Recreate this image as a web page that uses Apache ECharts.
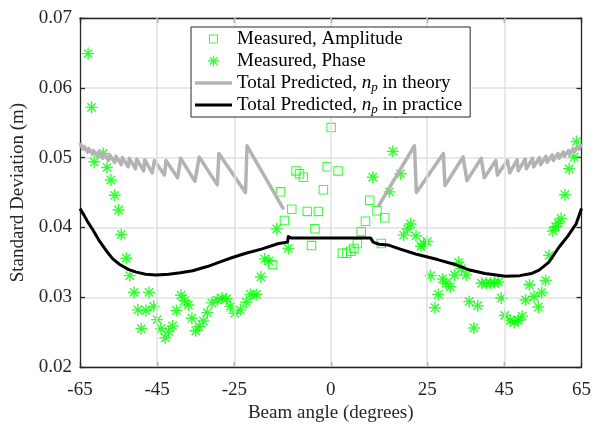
<!DOCTYPE html>
<html><head><meta charset="utf-8">
<script src="https://cdn.jsdelivr.net/npm/echarts@6/dist/echarts.min.js"></script>
<style>html,body{margin:0;padding:0;background:#fff}#c{width:594px;height:428px}</style>
</head><body><div id="c"></div>
<script>
const xTicks = [-65, -45, -25, 0, 25, 45, 65];
const xGrid = [-45, -25, 0, 25, 45];
const yMin = 0.02, yMax = 0.07, yStep = 0.01;

const seriesNames = ['Measured, Amplitude', 'Measured, Phase', 'Total Predicted, n_p in theory', 'Total Predicted, n_p in practice'];

const amplitude = [
  [-15.1,0.0347],[-13.0,0.0451],[-12.0,0.0410],[-10.1,0.0426],[-9.0,0.0481],[-8.1,0.0477],[-7.1,0.0472],
  [-6.1,0.0423],[-5.0,0.0374],[-4.1,0.0398],[-3.2,0.0423],[-1.9,0.0454],[-0.9,0.0487],[0.1,0.0543],
  [1.9,0.0481],[3.0,0.0363],[4.1,0.0363],[5.2,0.0366],[6.0,0.0370],[6.9,0.0377],[7.9,0.0394],
  [9.0,0.0409],[10.1,0.0439],[12.0,0.0424],[13.1,0.0377],[14.0,0.0414]
];

const phase = [
  [-62.9,0.0649],[-62.0,0.0572],[-61.3,0.0494],[-59.0,0.0506],[-58.0,0.0486],[-57.0,0.0468],[-56.0,0.0446],
  [-55.0,0.0425],[-54.3,0.0390],[-53.0,0.0356],[-52.1,0.0331],[-51.0,0.0307],[-47.1,0.0307],[-50.0,0.0282],
  [-47.9,0.0281],[-45.9,0.0287],[-49.1,0.0255],[-45.0,0.0268],[-44.0,0.0255],[-42.9,0.0242],[-42.0,0.0251],
  [-41.0,0.0259],[-40.0,0.0281],[-38.8,0.0303],[-37.9,0.0295],[-36.9,0.0289],[-36.0,0.0270],[-35.0,0.0252],
  [-34.1,0.0258],[-33.0,0.0266],[-32.0,0.0278],[-30.8,0.0292],[-29.4,0.0296],[-28.2,0.0299],[-27.0,0.0298],
  [-26.0,0.0287],[-24.9,0.0277],[-23.4,0.0282],[-21.9,0.0293],[-20.8,0.0304],[-19.3,0.0304],[-18.1,0.0329],
  [-17.1,0.0355],[-16.0,0.0352],[-14.0,0.0398],[-11.0,0.0370],
  [10.9,0.0472],[15.2,0.0451],[16.1,0.0509],[16.8,0.0565],[18.1,0.0477],
  [18.9,0.0389],[19.9,0.0398],[20.7,0.0405],[22.1,0.0388],[23.4,0.0373],[24.1,0.0376],[25.0,0.0380],
  [25.9,0.0331],[27.0,0.0285],[27.9,0.0304],[29.0,0.0326],[29.9,0.0320],[31.0,0.0315],[32.1,0.0332],
  [33.1,0.0350],[33.9,0.0341],[35.1,0.0332],[35.9,0.0294],[37.1,0.0256],[38.1,0.0288],[39.1,0.0320],
  [40.3,0.0320],[41.4,0.0320],[42.4,0.0321],[43.5,0.0322],[44.2,0.0299],[45.1,0.0274],[46.5,0.0267],
  [47.6,0.0264],[48.6,0.0267],[49.6,0.0273],[50.5,0.0296],[51.5,0.0318],[52.7,0.0301],[53.8,0.0286],
  [54.7,0.0307],[55.7,0.0324],[56.6,0.0360],[57.6,0.0395],[58.3,0.0401],[59.0,0.0406],[59.7,0.0413],
  [60.7,0.0447],[61.8,0.0484],[63.1,0.0501],[63.7,0.0523]
];

const theoryLeft = [
  [-65,0.0521],[-64.2,0.0512],[-63.9,0.0516],[-63.0,0.0508],[-62.7,0.0513],[-61.8,0.0505],[-61.5,0.0510],
  [-60.5,0.0502],[-60.2,0.0508],[-59.1,0.0499],[-58.8,0.0506],[-57.6,0.0496],[-57.3,0.0504],[-56.0,0.0493],
  [-55.7,0.0502],[-54.3,0.0490],[-54.0,0.0500],[-52.5,0.0487],[-52.2,0.0499],[-50.6,0.0484],[-50.3,0.0498],
  [-48.5,0.0481],[-48.2,0.0497],[-46.3,0.0478],[-45.7,0.0496],[-43.1,0.0475],[-42.7,0.0496],[-39.7,0.0471],
  [-38.9,0.0499],[-35.2,0.0466],[-34.1,0.0501],[-29.4,0.0461],[-29.0,0.0506],[-22.1,0.0450],[-21.7,0.0517],
  [-12.2,0.0426]
];
const theoryRight = [
  [12.2,0.0429],[21.7,0.0517],[22.2,0.0450],[29.2,0.0506],[29.6,0.0460],[34.3,0.0501],[35.3,0.0467],
  [39.0,0.0499],[39.8,0.0471],[42.8,0.0496],[43.2,0.0475],[45.8,0.0496],[46.4,0.0478],[48.3,0.0497],
  [48.6,0.0481],[50.4,0.0498],[50.7,0.0484],[52.3,0.0499],[52.6,0.0487],[54.1,0.0500],[54.4,0.0490],
  [55.8,0.0502],[56.1,0.0493],[57.4,0.0504],[57.7,0.0496],[58.9,0.0506],[59.2,0.0499],[60.3,0.0508],
  [60.6,0.0502],[61.6,0.0510],[61.9,0.0505],[62.8,0.0513],[63.1,0.0508],[64.0,0.0516],[64.3,0.0512],
  [65,0.0520]
];

const practice = [
  [-65,0.0427],[-64,0.0418],[-63,0.0408],[-61.6,0.0396],[-59.9,0.0380],[-58.1,0.0366],[-56.5,0.0355],
  [-54.7,0.0347],[-52.5,0.0340],[-50.4,0.0336],[-48,0.0333],[-45.3,0.0332],[-42,0.0333],[-39,0.0335],
  [-35.8,0.0338],[-32,0.0344],[-28.5,0.0351],[-25.5,0.0357],[-22,0.0363],[-18,0.0369],[-13.5,0.0377],
  [-11.2,0.0379],[-11.0,0.0387],[-10.3,0.0385],[0,0.0385],[10.3,0.0385],[11.0,0.0379],[12.5,0.0376],
  [14.8,0.0375],[18,0.0369],[22,0.0362],[27.7,0.0354],[32.2,0.0347],[36,0.0339],[40,0.0334],
  [45.3,0.0330],[49,0.0331],[52,0.0334],[54,0.0339],[56.5,0.0350],[59.2,0.0372],[61.5,0.0388],
  [63.6,0.0405],[65,0.0427]
];

const FONT = 'Liberation Serif';
const AXIS_COLOR = '#262626';
const GRID_COLOR = '#e0e0e0';
const GREEN = '#00ff00';

const squareSym = 'path://M0,0H10V10H0Z M1.1,1.1V8.9H8.9V1.1Z';
const starSym = 'path://M4.4,0H5.6V10H4.4Z M0,4.4H10V5.6H0Z M1.93,1.08L8.92,8.07L8.07,8.92L1.08,1.93Z M8.07,1.08L8.92,1.93L1.93,8.92L1.08,8.07Z';
const squareIcon = 'path://M-2.5,-2.5L-2.5,-2.5Z M11.5,11.5L11.5,11.5Z M0,0H9V9H0Z M1,1V8H8V1Z';
const starIcon = 'path://M-1.5,-1.5L-1.5,-1.5Z M11.5,11.5L11.5,11.5Z M4.4,0H5.6V10H4.4Z M0,4.4H10V5.6H0Z M1.93,1.08L8.92,8.07L8.07,8.92L1.08,1.93Z M8.07,1.08L8.92,1.93L1.93,8.92L1.08,8.07Z';
const grayIcon = 'path://M0,0H37V3.5H0Z';
const blackIcon = 'path://M0,0H37V3H0Z';

const chart = echarts.init(document.getElementById('c'), null, {renderer: 'canvas'});

const option = {
  animation: false,
  textStyle: {fontFamily: FONT},
  grid: {left: 80, right: 8, top: 18, bottom: 53, containLabel: false},
  legend: {
    left: 191, top: 27, orient: 'vertical',
    padding: [1, 8, 1, 4],
    itemWidth: 37, itemHeight: 14, itemGap: 0, itemTextGap: 3,
    backgroundColor: '#fff', borderColor: AXIS_COLOR, borderWidth: 1, borderRadius: 0,
    z: 10,
    selectedMode: false,
    itemStyle: {borderWidth: 0},
    textStyle: {
      fontFamily: FONT, fontSize: 19, color: '#000', lineHeight: 22,
      rich: {
        i: {fontFamily: FONT, fontStyle: 'italic', fontSize: 19, lineHeight: 22, color: '#000'},
        s: {fontFamily: FONT, fontStyle: 'italic', fontSize: 13, lineHeight: 8, verticalAlign: 'bottom', color: '#000'}
      }
    },
    formatter: name => name.replace('n_p', '{i|n}{s|p}'),
    data: [
      {name: seriesNames[0], icon: squareIcon},
      {name: seriesNames[1], icon: starIcon},
      {name: seriesNames[2], icon: grayIcon},
      {name: seriesNames[3], icon: blackIcon}
    ]
  },
  xAxis: [{
    type: 'value', min: -65, max: 65, position: 'bottom',
    name: 'Beam angle (degrees)', nameLocation: 'middle', nameGap: 33,
    nameTextStyle: {fontFamily: FONT, fontSize: 19, color: AXIS_COLOR},
    axisLine: {show: true, onZero: false, lineStyle: {color: AXIS_COLOR, width: 1.3}},
    axisTick: {show: true, inside: true, length: 5, customValues: xTicks, lineStyle: {color: AXIS_COLOR, width: 1.3}},
    axisLabel: {show: true, customValues: xTicks, margin: 13, fontFamily: FONT, fontSize: 19, color: AXIS_COLOR},
    splitLine: {show: false}
  }, {
    type: 'value', min: -65, max: 65, position: 'top',
    axisLine: {show: true, onZero: false, lineStyle: {color: AXIS_COLOR, width: 1.3}},
    axisTick: {show: true, inside: true, length: 5, customValues: xTicks, lineStyle: {color: AXIS_COLOR, width: 1.3}},
    axisLabel: {show: false},
    splitLine: {show: false}
  }],
  yAxis: [{
    type: 'value', min: yMin, max: yMax, interval: yStep, position: 'left',
    name: 'Standard Deviation (m)', nameLocation: 'middle', nameGap: 41,
    nameTextStyle: {fontFamily: FONT, fontSize: 19, color: AXIS_COLOR},
    axisLine: {show: true, onZero: false, lineStyle: {color: AXIS_COLOR, width: 1.3}},
    axisTick: {show: true, inside: true, length: 5, lineStyle: {color: AXIS_COLOR, width: 1.3}},
    axisLabel: {margin: 8, fontFamily: FONT, fontSize: 19, color: AXIS_COLOR, formatter: v => v.toFixed(2)},
    splitLine: {show: true, lineStyle: {color: GRID_COLOR, width: 1.5}}
  }, {
    type: 'value', min: yMin, max: yMax, interval: yStep, position: 'right',
    axisLine: {show: true, onZero: false, lineStyle: {color: AXIS_COLOR, width: 1.3}},
    axisTick: {show: true, inside: true, length: 5, lineStyle: {color: AXIS_COLOR, width: 1.3}},
    axisLabel: {show: false},
    splitLine: {show: false}
  }],
  series: [
    {
      name: '__grid', type: 'line', data: [[-65, yMin]], symbol: 'none', silent: true, z: 1,
      lineStyle: {opacity: 0},
      markLine: {
        silent: true, symbol: ['none', 'none'], label: {show: false}, animation: false,
        lineStyle: {color: GRID_COLOR, width: 1.5, type: 'solid'},
        emphasis: {disabled: true},
        data: xGrid.map(v => ({xAxis: v}))
      }
    },
    {
      name: seriesNames[0], type: 'scatter', data: amplitude, z: 2,
      symbol: squareSym, symbolSize: 9.5, itemStyle: {color: GREEN}
    },
    {
      name: seriesNames[1], type: 'scatter', data: phase, z: 3,
      symbol: starSym, symbolSize: 12, itemStyle: {color: GREEN}
    },
    {
      name: seriesNames[2], type: 'line', data: [...theoryLeft, ['-', '-'], ...theoryRight], z: 4,
      symbol: 'none', showSymbol: false, connectNulls: false, color: '#b3b3b3', sampling: null,
      itemStyle: {color: '#b3b3b3'},
      lineStyle: {color: '#b3b3b3', width: 3.5, join: 'round'}
    },
    {
      name: seriesNames[3], type: 'line', data: practice, z: 5,
      symbol: 'none', showSymbol: false, color: '#000',
      itemStyle: {color: '#000'},
      lineStyle: {color: '#000', width: 3, join: 'round'}
    }
  ]
};
chart.setOption(option);
</script>
</body></html>
